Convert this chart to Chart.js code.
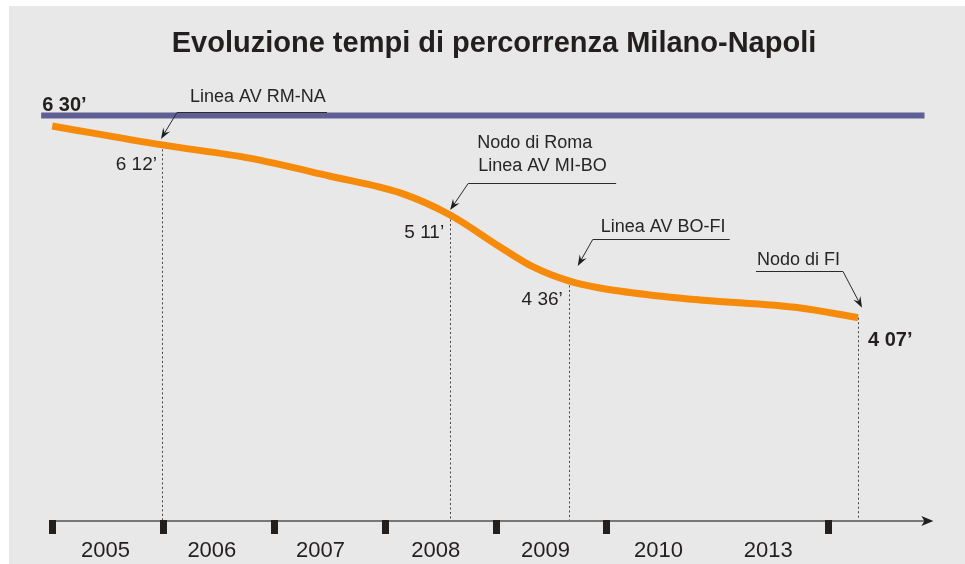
<!DOCTYPE html>
<html>
<head>
<meta charset="utf-8">
<script src="https://cdn.jsdelivr.net/npm/chart.js@4.4.1/dist/chart.umd.min.js"></script>
<style>
html, body { margin: 0; padding: 0; background: #fff; }
</style>
</head>
<body>
<canvas id="tempi-chart" width="965" height="564"></canvas>
<script>
const years = ["2005", "2006", "2007", "2008", "2009", "2010", "2013"];
const yearPos = [0.48, 1.44, 2.42, 3.46, 4.45, 5.47, 6.46];
const tickMarks = [0, 1, 2, 3, 4, 5, 7];

// orange curve: x in axis units (one slot per year), y in minutes as drawn
const curveX = [0, 0.99, 1.78, 2.5, 3.14, 3.59, 4.04, 4.34, 4.66, 4.94, 5.39, 5.84, 6.75, 7.27];
const curveY = [382.6, 369.2, 359.8, 347.2, 335.2, 319.6, 297.0, 282.8, 272.9, 267.9, 263.0, 259.5, 253.8, 246.9];

// 6h30 reference line
const refX = [-0.1, 7.87];
const refY = [390, 390];
const refLabel = "6 30’";

// milestones on the curve
const stepX = [0.99, 3.59, 4.66, 7.27];
const stepY = [369.2, 319.6, 272.9, 246.9];
const stepTimes = ["6 12’", "5 11’", "4 36’", "4 07’"];
const stepNotes = [["Linea AV RM-NA"], ["Nodo di Roma", "Linea AV MI-BO"], ["Linea AV BO-FI"], ["Nodo di FI"]];

const FONT = "'Liberation Sans', Arial, sans-serif";

// pixel offsets of the callouts, relative to the milestone point
const noteLayout = [
    {tip: [-1, -6], tail: [15, -33], lineTo: 165, text: [[28, -43]]},
    {tip: [0, -5], tail: [18, -32], lineTo: 166, text: [[27, -67], [28, -44]]},
    {tip: [9, -15], tail: [24, -42], lineTo: 161, text: [[32, -49]]},
    {tip: [4, -10], tail: [-15, -47], lineTo: -102, text: [[-101, -53]]}
];
const timeLayout = [[-5, 25, 'right', false], [-6, 23, 'right', false], [-6, 24, 'right', false], [10, 28, 'left', true]];

function arrow(ctx, x1, y1, x2, y2) {
    const a = Math.atan2(y2 - y1, x2 - x1);
    const c = Math.cos(a), s = Math.sin(a);
    ctx.beginPath();
    ctx.moveTo(x1, y1);
    ctx.lineTo(x2 - 6 * c, y2 - 6 * s);
    ctx.stroke();
    ctx.beginPath();
    ctx.moveTo(x2, y2);
    ctx.lineTo(x2 - 11 * c + 4 * s, y2 - 11 * s - 4 * c);
    ctx.lineTo(x2 - 7 * c, y2 - 7 * s);
    ctx.lineTo(x2 - 11 * c - 4 * s, y2 - 11 * s + 4 * c);
    ctx.closePath();
    ctx.fill();
}

const extras = {
    id: 'extras',
    beforeDraw(chart) {
        const ctx = chart.ctx;
        ctx.save();
        ctx.fillStyle = '#ffffff';
        ctx.fillRect(0, 0, chart.width, chart.height);
        ctx.fillStyle = '#e8e8e8';
        ctx.fillRect(9, 6, chart.width - 9, chart.height - 6);
        ctx.restore();
    },
    beforeDatasetsDraw(chart) {
        const ctx = chart.ctx;
        const xs = chart.scales.x, ys = chart.scales.y;
        const base = chart.chartArea.bottom;
        ctx.save();

        // dotted drop lines
        ctx.strokeStyle = '#444';
        ctx.lineWidth = 1;
        ctx.setLineDash([2, 2.5]);
        stepX.forEach((v, i) => {
            const px = Math.round(xs.getPixelForValue(v)) + 0.5;
            ctx.beginPath();
            ctx.moveTo(px, ys.getPixelForValue(stepY[i]));
            ctx.lineTo(px, base);
            ctx.stroke();
        });
        ctx.setLineDash([]);

        // time axis with arrow
        const x0 = xs.getPixelForValue(0) - 3;
        const x1 = xs.getPixelForValue(7.95);
        ctx.strokeStyle = '#777';
        ctx.lineWidth = 2;
        ctx.beginPath();
        ctx.moveTo(x0, base);
        ctx.lineTo(x1 - 6, base);
        ctx.stroke();
        ctx.fillStyle = '#231f1c';
        ctx.beginPath();
        ctx.moveTo(x1, base);
        ctx.lineTo(x1 - 12, base - 5);
        ctx.lineTo(x1 - 9, base);
        ctx.lineTo(x1 - 12, base + 5);
        ctx.closePath();
        ctx.fill();
        tickMarks.forEach(v => {
            const px = Math.round(xs.getPixelForValue(v));
            ctx.fillRect(px - 3, base - 1, 7, 14);
        });
        ctx.restore();
    },
    afterDatasetsDraw(chart) {
        const ctx = chart.ctx;
        const xs = chart.scales.x, ys = chart.scales.y;
        ctx.save();
        ctx.fillStyle = '#231f1f';
        ctx.textBaseline = 'alphabetic';

        // title
        ctx.font = 'bold 29px ' + FONT;
        ctx.textAlign = 'center';
        ctx.fillText('Evoluzione tempi di percorrenza Milano-Napoli', 494, 52);

        // 6 30' label
        ctx.font = 'bold 20px ' + FONT;
        ctx.textAlign = 'left';
        ctx.fillText(refLabel, xs.getPixelForValue(refX[0]) + 1, ys.getPixelForValue(refY[0]) - 5);

        stepX.forEach((v, i) => {
            const px = xs.getPixelForValue(v);
            const py = ys.getPixelForValue(stepY[i]);
            const L = noteLayout[i];

            // callout
            ctx.strokeStyle = '#2a2a2a';
            ctx.fillStyle = '#1e1e1e';
            ctx.lineWidth = 1;
            const tx = px + L.tail[0], ty = Math.round(py + L.tail[1]) + 0.5;
            ctx.beginPath();
            ctx.moveTo(tx, ty);
            ctx.lineTo(px + L.lineTo, ty);
            ctx.stroke();
            arrow(ctx, tx, ty, px + L.tip[0], py + L.tip[1]);

            ctx.fillStyle = '#262626';
            ctx.font = '18px ' + FONT;
            ctx.textAlign = 'left';
            stepNotes[i].forEach((t, j) => {
                ctx.fillText(t, px + L.text[j][0], py + L.text[j][1]);
            });

            // time label
            const T = timeLayout[i];
            ctx.font = (T[3] ? 'bold 20px ' : '19px ') + FONT;
            ctx.textAlign = T[2];
            ctx.fillStyle = '#231f1f';
            ctx.fillText(stepTimes[i], px + T[0], py + T[1]);
        });
        ctx.restore();
    }
};

new Chart(document.getElementById('tempi-chart').getContext('2d'), {
    type: 'line',
    data: {
        datasets: [{
            data: refX.map((x, i) => ({x: x, y: refY[i]})),
            borderColor: '#5f5f96',
            borderWidth: 6,
            pointRadius: 0
        }, {
            data: curveX.map((x, i) => ({x: x, y: curveY[i]})),
            borderColor: '#f68a0a',
            borderWidth: 7,
            pointRadius: 0,
            cubicInterpolationMode: 'monotone'
        }]
    },
    options: {
        responsive: false,
        animation: false,
        devicePixelRatio: 1,
        layout: {
            padding: {left: 19, right: 15, top: 59, bottom: 0}
        },
        plugins: {
            legend: {display: false},
            tooltip: {enabled: false},
            title: {display: false}
        },
        scales: {
            x: {
                type: 'linear',
                min: -0.3,
                max: 8.1,
                afterBuildTicks: axis => {
                    axis.ticks = yearPos.map(v => ({value: v}));
                },
                afterFit: axis => {
                    axis.height = 43;
                },
                ticks: {
                    callback: (v, i) => years[i],
                    font: {family: FONT, size: 22},
                    color: '#231f1f',
                    padding: 9,
                    maxRotation: 0,
                    autoSkip: false
                },
                grid: {display: false},
                border: {display: false}
            },
            y: {
                display: false,
                min: 103,
                max: 430
            }
        }
    },
    plugins: [extras]
});
</script>
</body>
</html>
